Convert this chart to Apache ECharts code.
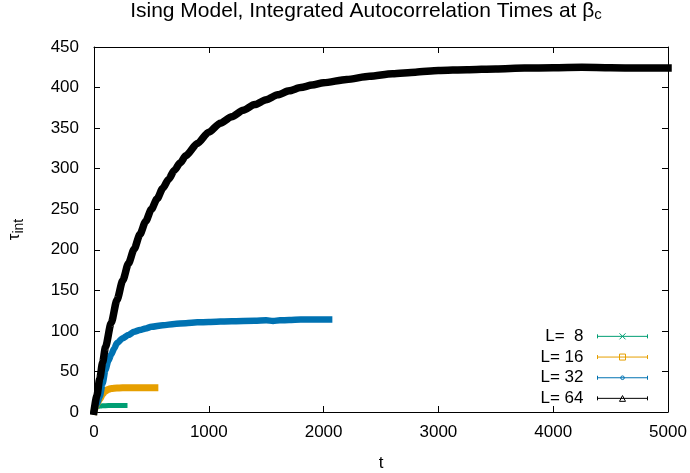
<!DOCTYPE html>
<html>
<head>
<meta charset="utf-8">
<script src="https://cdn.jsdelivr.net/npm/echarts@6/dist/echarts.min.js"></script>
<style>
  html, body { margin: 0; padding: 0; background: #fff; }
  #chart { width: 690px; height: 473px; }
</style>
</head>
<body>
<div id="chart"></div>
<script>
// Integrated autocorrelation time tau_int(t) for several lattice sizes L
const seriesNames = ['L=  8', 'L= 16', 'L= 32', 'L= 64'];

const tL8 = [0, 10, 20, 30, 50, 75, 100, 150, 200, 270];
const tauL8 = [1, 3.5, 5.5, 6.5, 7.3, 7.6, 7.8, 8, 8, 8];

const tL16 = [0, 10, 25, 50, 75, 100, 125, 150, 200, 300, 400, 530];
const tauL16 = [1, 5, 10, 16, 22, 26, 28, 29, 29.5, 30, 30, 30];

const tL32 = [0, 25, 50, 75, 100, 125, 150, 175, 200, 250, 300, 350, 400, 450, 500,
  600, 700, 800, 900, 1000, 1200, 1400, 1500, 1560, 1620, 1700, 1800, 1900, 2000, 2048];
const tauL32 = [1, 10, 19, 35, 52, 63, 71, 78, 85, 91, 95, 99, 101, 103, 105,
  107, 108.5, 109.5, 110.5, 111, 112, 112.5, 113, 112.3, 113, 113.5, 114, 114, 114, 114];

const tL64 = [0, 25, 50, 75, 100, 150, 200, 250, 300, 350, 400, 450, 500, 550, 600,
  650, 700, 750, 800, 900, 1000, 1100, 1200, 1300, 1400, 1500, 1600, 1700, 1800, 1900,
  2000, 2200, 2400, 2600, 2800, 3000, 3250, 3500, 3750, 4000, 4250, 4500, 4750, 5000];
const tauL64 = [1, 20, 41, 61, 80, 110, 138, 162, 183, 201, 219, 235, 250, 263, 276,
  287, 298, 307, 316, 331, 345, 356, 364, 372, 379, 385, 391, 396, 400, 403,
  406, 410, 414, 417, 419, 421, 422, 423, 424, 424.5, 425, 424.5, 424, 424];

const xTicks = { min: 0, max: 5000, step: 1000 };
const yTicks = { min: 0, max: 450, step: 50 };

const colors = ['#009e73', '#e69f00', '#0072b2', '#000000'];
const bandWidths = [5, 7, 6.5, 7.5];

// Legend key: error-bar style sample with the point type in the middle
const capsPath = 'M0 3L0 7M0 5L50 5M50 3L50 7';
const markerPaths = [
  'M22 2L28 8M22 8L28 2',
  'M22 2L28 2L28 8L22 8Z',
  'M23.2 5A1.8 1.8 0 1 1 26.8 5A1.8 1.8 0 1 1 23.2 5Z',
  'M22 8L25 2.2L28 8Z'
];

const FONT = '"Liberation Sans", Arial, sans-serif';

function pairs(ts, vs) {
  return ts.map((t, i) => [t, vs[i]]);
}
const seriesData = [pairs(tL8, tauL8), pairs(tL16, tauL16), pairs(tL32, tauL32), pairs(tL64, tauL64)];

const axisCommon = {
  type: 'value',
  axisLine: { show: true, onZero: false, lineStyle: { color: '#000', width: 1 } },
  axisTick: { show: true, inside: true, length: 6, lineStyle: { color: '#000' } },
  splitLine: { show: false }
};

const option = {
  animation: false,
  backgroundColor: '#fff',
  textStyle: { fontFamily: FONT },
  title: {
    text: 'Ising Model, Integrated Autocorrelation Times at {b|β}{s|c}',
    left: 366,
    textAlign: 'center',
    top: 0,
    padding: 0,
    textStyle: {
      fontFamily: FONT, fontSize: 21, fontWeight: 'normal', color: '#000', lineHeight: 22,
      rich: {
        b: { fontFamily: FONT, fontSize: 21, color: '#000', lineHeight: 22, verticalAlign: 'middle' },
        s: { fontFamily: FONT, fontSize: 15, color: '#000', lineHeight: 22, verticalAlign: 'bottom' }
      }
    }
  },
  grid: { left: 94, right: 22, top: 47, bottom: 61, containLabel: false, outerBoundsMode: 'none' },
  legend: {
    orient: 'vertical',
    right: 37,
    top: 321,
    align: 'right',
    itemWidth: 50,
    itemHeight: 10,
    itemGap: 0,
    selectedMode: false,
    textStyle: { fontFamily: FONT, fontSize: 17, color: '#000', lineHeight: 20.7, padding: [0, 9, 0, 0] },
    data: seriesNames.map((n, i) => ({
      name: n,
      icon: 'path://' + capsPath + markerPaths[i],
      itemStyle: { color: 'rgba(0,0,0,0)', borderColor: colors[i], borderWidth: 1 }
    }))
  },
  xAxis: [
    Object.assign({}, axisCommon, {
      position: 'bottom',
      min: xTicks.min, max: xTicks.max, interval: xTicks.step,
      name: 't',
      nameLocation: 'middle',
      nameGap: 43,
      nameTextStyle: { fontFamily: FONT, fontSize: 17, color: '#000' },
      axisLabel: { margin: 12, fontFamily: FONT, fontSize: 17, color: '#000', formatter: v => String(v) }
    }),
    Object.assign({}, axisCommon, {
      position: 'top',
      min: xTicks.min, max: xTicks.max, interval: xTicks.step,
      axisLabel: { show: false }
    })
  ],
  yAxis: [
    Object.assign({}, axisCommon, {
      position: 'left',
      min: yTicks.min, max: yTicks.max, interval: yTicks.step,
      name: '{t|τ}{i|int}',
      nameLocation: 'middle',
      nameGap: 68,
      nameRotate: 90,
      nameTextStyle: {
        color: '#000',
        rich: {
          t: { fontFamily: FONT, fontSize: 17, color: '#000', lineHeight: 24, verticalAlign: 'middle' },
          i: { fontFamily: FONT, fontSize: 14, color: '#000', lineHeight: 24, verticalAlign: 'bottom' }
        }
      },
      axisLabel: { margin: 15, fontFamily: FONT, fontSize: 17, color: '#000', formatter: v => String(v) }
    }),
    Object.assign({}, axisCommon, {
      position: 'right',
      min: yTicks.min, max: yTicks.max, interval: yTicks.step,
      axisLabel: { show: false }
    })
  ],
  series: seriesNames.map((n, i) => ({
    name: n,
    type: 'line',
    xAxisIndex: 0,
    yAxisIndex: 0,
    data: seriesData[i],
    showSymbol: false,
    clip: false,
    smooth: 0.25,
    smoothMonotone: 'x',
    color: colors[i],
    lineStyle: { color: colors[i], width: bandWidths[i], cap: 'square', join: 'round' },
    emphasis: { disabled: true }
  }))
};

const chart = echarts.init(document.getElementById('chart'), null, { renderer: 'canvas' });
chart.setOption(option);
</script>
</body>
</html>
